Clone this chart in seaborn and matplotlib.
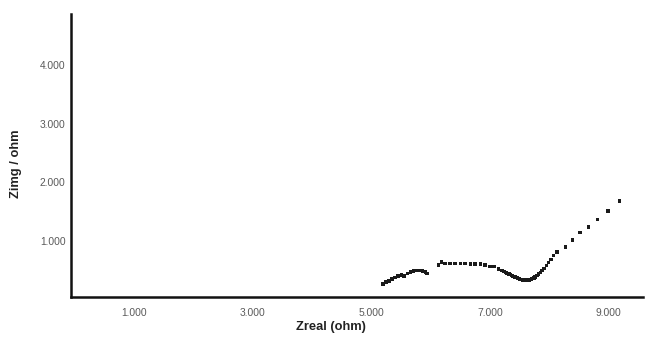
import matplotlib
matplotlib.use("Agg")
import matplotlib.pyplot as plt
from matplotlib.ticker import FuncFormatter, FixedLocator
import seaborn as sns
import pandas as pd

# Nyquist data (ohm)
z_real = [
    5200, 5250, 5300, 5350, 5400, 5450, 5510, 5550, 5610, 5660, 5710, 5760,
    5810, 5860, 5910, 5940,
    6130, 6180, 6240, 6330, 6410, 6500, 6580, 6670, 6750, 6840, 6920, 7000,
    7070, 7140,
    7200, 7240, 7260, 7280, 7300, 7320, 7340, 7360, 7380, 7400, 7420, 7440,
    7460, 7480, 7500, 7520, 7540, 7560, 7580, 7600, 7620, 7640, 7660, 7680,
    7700, 7720, 7740, 7760, 7790, 7820, 7850, 7880, 7910, 7950, 7990, 8030,
    8070, 8130, 8270, 8390, 8520, 8660, 8810, 8990, 9180,
]
z_imag = [
    270, 300, 320, 350, 380, 400, 420, 400, 450, 470, 490, 500,
    500, 490, 470, 450,
    590, 640, 620, 620, 620, 620, 620, 610, 610, 610, 590, 570,
    560, 520,
    495, 475, 465, 455, 445, 435, 425, 415, 405, 395, 385, 378,
    370, 362, 355, 348, 342, 337, 333, 330, 330, 332, 336, 342,
    350, 360, 372, 386, 410, 435, 465, 500, 535, 580, 630, 680,
    750, 810, 900, 1020, 1140, 1240, 1370, 1510, 1680,
]
x_ticks = [1000, 3000, 5000, 7000, 9000]
y_ticks = [1000, 2000, 3000, 4000]

df = pd.DataFrame({"Zreal": z_real, "Zimg": z_imag})

sns.set_style("white")
plt.rcParams["font.family"] = ["Liberation Sans", "DejaVu Sans"]

fig = plt.figure(figsize=(6.49, 3.38), dpi=100)
ax = fig.add_axes([0.1094, 0.1213, 0.8814, 0.8373])

sns.scatterplot(data=df, x="Zreal", y="Zimg", ax=ax, marker="s", s=6,
                color="#1a1a1a", edgecolor="none", linewidth=0)

ax.set_xlim(-60, 9580)
ax.set_ylim(45, 4870)
ax.xaxis.set_major_locator(FixedLocator(x_ticks))
ax.yaxis.set_major_locator(FixedLocator(y_ticks))

# thousands shown with a dot separator, e.g. 3000 -> "3.000"
fmt = FuncFormatter(lambda v, p: f"{v:,.0f}".replace(",", "."))
ax.xaxis.set_major_formatter(fmt)
ax.yaxis.set_major_formatter(fmt)
ax.tick_params(axis="both", length=0, labelsize=7.4, labelcolor="#5a5a5a")
ax.tick_params(axis="x", pad=8)
ax.tick_params(axis="y", pad=4)

for side in ("top", "right"):
    ax.spines[side].set_visible(False)
for side in ("left", "bottom"):
    ax.spines[side].set_linewidth(1.8)
    ax.spines[side].set_color("#111111")

ax.set_xlabel("Zreal (ohm)", fontsize=9.3, fontweight="bold", color="#222222")
ax.set_ylabel("Zimg / ohm", fontsize=9.3, fontweight="bold", color="#222222")
ax.xaxis.set_label_coords(0.455, -0.085)
ax.yaxis.set_label_coords(-0.086, 0.47)

fig.savefig("out.png", dpi=100)
